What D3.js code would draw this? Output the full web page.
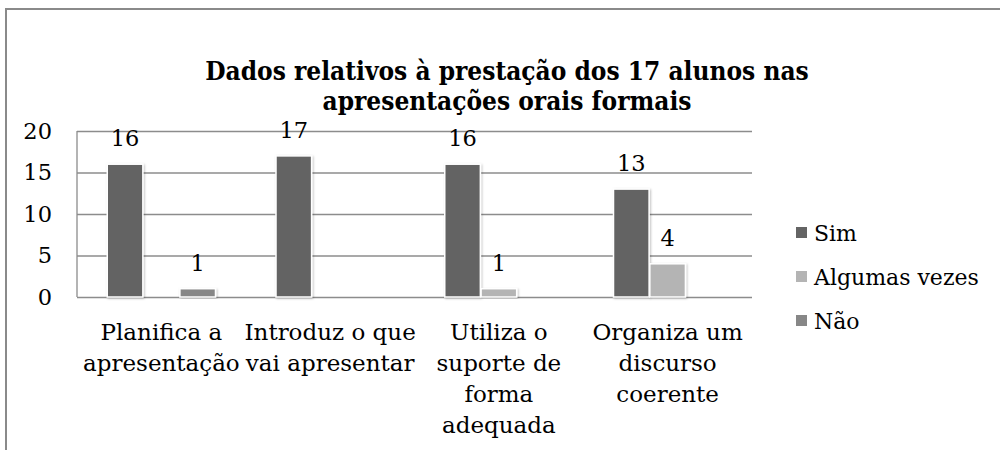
<!DOCTYPE html>
<html>
<head>
<meta charset="utf-8">
<script src="https://cdn.jsdelivr.net/npm/d3@7"></script>
<style>
  html, body { margin: 0; padding: 0; background: #fff; }
  svg { display: block; }
  text { font-family: "DejaVu Serif", "Liberation Serif", serif; fill: #000; }
</style>
</head>
<body>
<svg id="chart" width="1000" height="450"></svg>
<script>
const titleLines = ["Dados relativos à prestação dos 17 alunos nas", "apresentações orais formais"];
const categories = [
  ["Planifica a", "apresentação"],
  ["Introduz o que", "vai apresentar"],
  ["Utiliza o", "suporte de", "forma", "adequada"],
  ["Organiza um", "discurso", "coerente"]
];
const seriesNames = ["Sim", "Algumas vezes", "Não"];
const simValues = [16, 17, 16, 13];
const algumasValues = [0, 0, 1, 4];
const naoValues = [1, 0, 0, 0];
const yTicks = [0, 5, 10, 15, 20];
const seriesColors = ["#646464", "#b4b4b4", "#878787"];

const seriesValues = [simValues, algumasValues, naoValues];
const svg = d3.select("#chart");

const defs = svg.append("defs");
const f = defs.append("filter").attr("id", "shadow").attr("x", "-20%").attr("y", "-20%").attr("width", "140%").attr("height", "140%");
f.append("feDropShadow").attr("dx", 1).attr("dy", 1).attr("stdDeviation", 1).attr("flood-color", "#000").attr("flood-opacity", 0.25);

// outer frame
svg.append("line").attr("x1", 6).attr("x2", 1000).attr("y1", 9).attr("y2", 9).attr("stroke", "#8a8a8a").attr("stroke-width", 2);
svg.append("line").attr("x1", 6).attr("x2", 6).attr("y1", 8).attr("y2", 450).attr("stroke", "#8a8a8a").attr("stroke-width", 2);

// title (two separate text lines)
const titleG = svg.append("g")
  .style("font-family", "'DejaVu Serif Condensed', 'DejaVu Serif', serif")
  .style("font-stretch", "condensed")
  .style("font-weight", "bold").style("font-size", "26px");
titleLines.forEach((l, i) => titleG.append("text").attr("text-anchor", "middle")
  .attr("x", 507).attr("y", 80 + i * 30).text(l));

const plot = { left: 77, right: 752, top: 131, bottom: 297 };
const y = d3.scaleLinear().domain([0, 20]).range([plot.bottom, plot.top]);
const x0 = d3.scaleBand().domain(d3.range(categories.length)).range([plot.left, plot.right])
  .paddingInner(0.35).paddingOuter(0.175);
const x1 = d3.scaleBand().domain(d3.range(seriesNames.length)).range([0, x0.bandwidth()]).padding(0.02);

// gridlines
const grid = svg.append("g").attr("transform", `translate(${plot.left},0)`)
  .call(d3.axisLeft(y).tickValues(yTicks).tickSize(-(plot.right - plot.left)).tickFormat(""));
grid.select(".domain").remove();
grid.selectAll(".tick line").attr("stroke", "#8c8c8c").attr("stroke-width", 1.3);

// y axis line
svg.append("line").attr("x1", plot.left).attr("x2", plot.left).attr("y1", plot.top).attr("y2", plot.bottom)
  .attr("stroke", "#8c8c8c").attr("stroke-width", 1.3);

// y labels
const yAxis = svg.append("g").attr("transform", `translate(52,0)`)
  .call(d3.axisLeft(y).tickValues(yTicks).tickSize(0).tickPadding(0));
yAxis.select(".domain").remove();
yAxis.selectAll("text").style("font-size", "22.5px").style("font-family", "'DejaVu Serif', serif").attr("fill", "#000");

// bars
const rows = [];
categories.forEach((c, ci) => seriesValues.forEach((vals, si) => rows.push({ ci, si, v: vals[ci] })));
const barRows = rows.filter(d => d.v > 0);
svg.append("g").selectAll("rect").data(barRows).join("rect")
  .attr("x", d => x0(d.ci) + x1(d.si))
  .attr("y", d => y(d.v))
  .attr("width", x1.bandwidth())
  .attr("height", d => y(0) - y(d.v))
  .attr("fill", d => seriesColors[d.si])
  .attr("stroke", "#fff").attr("stroke-width", 1.5)
  .attr("filter", "url(#shadow)");

// data labels
svg.append("g").selectAll("text").data(barRows).join("text")
  .attr("x", d => x0(d.ci) + x1(d.si) + x1.bandwidth() / 2)
  .attr("y", d => y(d.v) - 18)
  .attr("text-anchor", "middle").style("font-size", "22.5px")
  .text(d => d.v);

// category labels
categories.forEach((lines, ci) => {
  const t = svg.append("text").attr("text-anchor", "middle").style("font-size", "23px");
  lines.forEach((l, li) => t.append("tspan").attr("x", x0(ci) + x0.bandwidth() / 2).attr("y", 340 + li * 31).text(l));
});

// legend
const legend = svg.append("g");
seriesNames.forEach((name, i) => {
  const g = legend.append("g").attr("transform", `translate(796,${227 + i * 44})`);
  g.append("rect").attr("width", 11).attr("height", 11).attr("fill", seriesColors[i]);
  g.append("text").attr("x", 18).attr("y", 14).style("font-size", "22px").text(name);
});
</script>
</body>
</html>
